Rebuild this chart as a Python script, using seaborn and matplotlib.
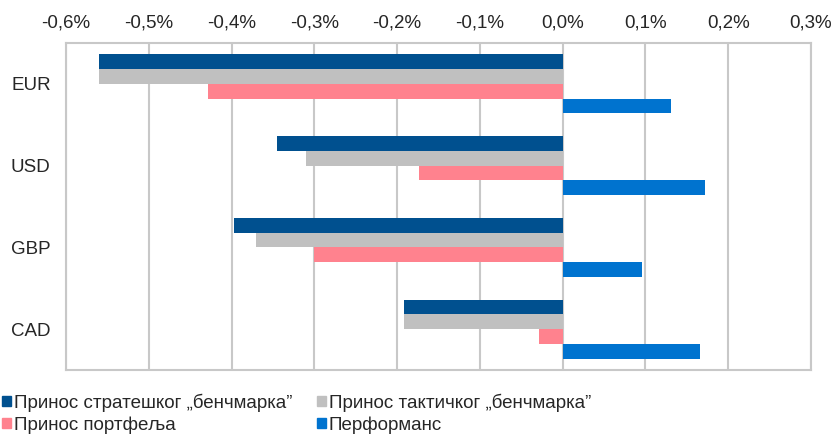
import pandas as pd
import numpy as np
import matplotlib
matplotlib.use("Agg")
import matplotlib.pyplot as plt
from matplotlib.ticker import FuncFormatter, MultipleLocator
from matplotlib.patches import Patch
import seaborn as sns

# Data (in %)
currencies = ["EUR", "USD", "GBP", "CAD"]
series = ["Принос стратешког „бенчмарка”", "Принос тактичког „бенчмарка”",
          "Принос портфеља", "Перформанс"]
strategic = [-0.560, -0.345, -0.397, -0.192]
tactical = [-0.560, -0.310, -0.371, -0.192]
portfolio = [-0.429, -0.173, -0.300, -0.028]
performance = [0.131, 0.172, 0.096, 0.166]
colors = ["#00508F", "#C0C0C0", "#FF828E", "#0073CF"]

df = pd.DataFrame({"currency": currencies * 4,
                   "series": np.repeat(series, 4),
                   "value": strategic + tactical + portfolio + performance})

sns.set_style("white")
plt.rcParams["font.family"] = ["Liberation Sans", "DejaVu Sans"]

fig = plt.figure(figsize=(8.33, 4.34), dpi=100)
ax = fig.add_axes([0.0792, 0.1475, 0.8944, 0.7534])

sns.barplot(data=df, y="currency", x="value", hue="series", orient="h",
            palette=colors, width=0.72, saturation=1, ax=ax, legend=False,
            order=currencies, hue_order=series, linewidth=0)

ax.set_xlim(-0.6, 0.3)
ax.set_ylim(3.5, -0.5)
ax.xaxis.set_major_locator(MultipleLocator(0.1))
ax.xaxis.set_major_formatter(FuncFormatter(
    lambda v, p: ("%.1f%%" % (0.0 if abs(v) < 1e-9 else v)).replace(".", ",")))
ax.xaxis.tick_top()
ax.tick_params(axis="x", length=0, labelsize=13.5, pad=8)
ax.tick_params(axis="y", length=0, labelsize=13.5, pad=11)
ax.set_xlabel("")
ax.set_ylabel("")
ax.grid(axis="x", color="#C8C8C8", linewidth=1.5)
ax.set_axisbelow(True)
for s in ax.spines.values():
    s.set_color("#C8C8C8")
    s.set_linewidth(1.5)

# legend is filled column-wise, so reorder to get rows like the original
handles = [Patch(color=colors[i], label=series[i]) for i in [0, 2, 1, 3]]
fig.legend(handles=handles, loc="upper left", bbox_to_anchor=(0.003, 0.093),
           ncol=2, frameon=False, fontsize=13.5, handlelength=0.45,
           handleheight=0.45, handletextpad=0.15, columnspacing=1.35,
           labelspacing=0.25, borderaxespad=0, borderpad=0)

fig.savefig("out.png", dpi=100)
